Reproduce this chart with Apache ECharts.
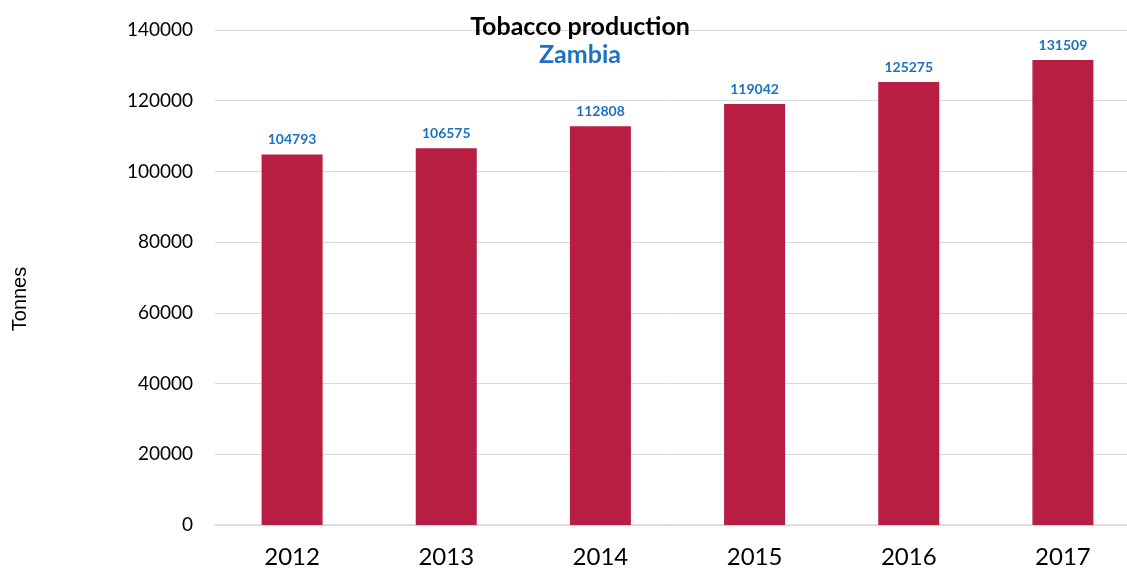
<!DOCTYPE html>
<html>
<head>
<meta charset="utf-8">
<script src="https://cdn.jsdelivr.net/npm/echarts@6/dist/echarts.min.js"></script>
<style>
html,body{margin:0;padding:0;background:#fff;overflow:hidden;}
#chart{width:1127px;height:570px;}
</style>
</head>
<body>
<div id="chart"></div>
<script>
const categories = ['2012', '2013', '2014', '2015', '2016', '2017'];
const production = [104793, 106575, 112808, 119042, 125275, 131509];
const titleText = 'Tobacco production';
const subtitleText = 'Zambia';
const yAxisName = 'Tonnes';

const chart = echarts.init(document.getElementById('chart'));
chart.setOption({
  backgroundColor: '#ffffff',
  animation: false,
  title: {
    text: titleText,
    subtext: subtitleText,
    left: 575,
    textAlign: 'center',
    top: 9,
    itemGap: 3,
    textStyle: { fontFamily: 'Lato', fontWeight: 'bold', fontSize: 25, color: '#000000' },
    subtextStyle: { fontFamily: 'Lato', fontWeight: 'bold', fontSize: 25, color: '#1C71C3' }
  },
  graphic: [{
    type: 'text',
    x: 20,
    y: 299,
    rotation: Math.PI / 2,
    style: {
      text: yAxisName,
      fontFamily: 'Liberation Sans',
      fontSize: 20,
      fill: '#000000',
      align: 'center',
      verticalAlign: 'middle'
    }
  }],
  grid: { left: 215, width: 925, top: 30, height: 495, containLabel: false, outerBoundsMode: 'none' },
  xAxis: {
    type: 'category',
    data: categories,
    axisLine: { show: true, lineStyle: { color: '#D9D9D9', width: 1.5 } },
    axisTick: { show: false },
    axisLabel: { fontFamily: 'Lato', fontSize: 24, color: '#000000', margin: 20 }
  },
  yAxis: {
    type: 'value',
    min: 0,
    max: 140000,
    interval: 20000,
    axisLine: { show: false },
    axisTick: { show: false },
    axisLabel: { fontFamily: 'Lato', fontSize: 19, color: '#000000', margin: 22, formatter: v => String(v) },
    splitLine: { lineStyle: { color: '#D9D9D9', width: 1 } }
  },
  series: [{
    type: 'bar',
    data: production,
    barWidth: 61,
    itemStyle: { color: '#B71E42' },
    label: {
      show: true,
      position: 'top',
      distance: 8,
      fontFamily: 'Lato',
      fontWeight: 'bold',
      fontSize: 14,
      color: '#1C71C3'
    }
  }]
});
</script>
</body>
</html>
